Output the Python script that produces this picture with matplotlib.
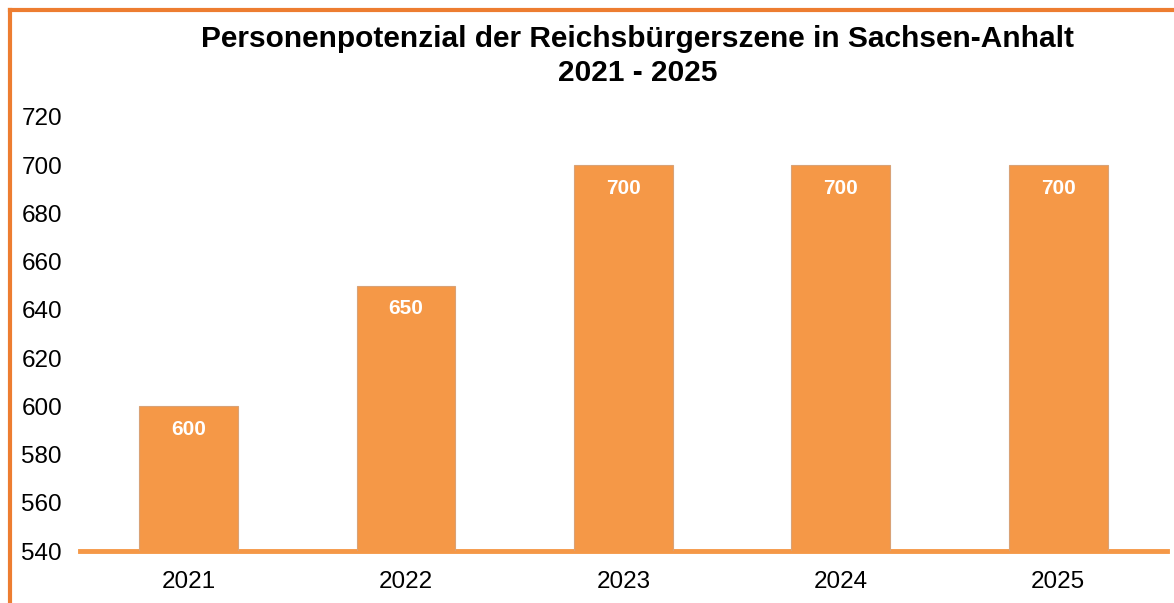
import matplotlib.pyplot as plt
from matplotlib.lines import Line2D

years = ['2021', '2022', '2023', '2024', '2025']
persons = [600, 650, 700, 700, 700]
yticks = [540, 560, 580, 600, 620, 640, 660, 680, 700, 720]

plt.rcParams['font.family'] = ['Liberation Sans', 'DejaVu Sans']
orange = '#F59847'

fig = plt.figure(figsize=(11.74, 6.03), dpi=100)
ax = fig.add_axes([0.068, 0.086, 0.926, 0.72])

x = range(len(years))
bars = ax.bar(x, [p - 540 for p in persons], bottom=540, width=0.455,
              color=orange, edgecolor='#D9A276', linewidth=0.8, zorder=2)

for i, p in zip(x, persons):
    ax.text(i, p - 9.5, str(p), ha='center', va='center', color='white',
            fontsize=15, fontweight='bold', zorder=3)

ax.set_xlim(-0.5, 4.5)
ax.set_ylim(540, 720)
ax.set_xticks(list(x))
ax.set_xticklabels(years, fontsize=17.5)
ax.set_yticks(yticks)
ax.set_yticklabels([str(t) for t in yticks], fontsize=17.5)
ax.tick_params(length=0)
ax.tick_params(axis='x', pad=14)
for lab in ax.get_yticklabels():
    lab.set_horizontalalignment('left')
ax.yaxis.set_tick_params(pad=42)

for s in ['top', 'right', 'left']:
    ax.spines[s].set_visible(False)
ax.spines['bottom'].set_color(orange)
ax.spines['bottom'].set_linewidth(3.5)
ax.spines['bottom'].set_zorder(1)

fig.text(0.543, 0.907, 'Personenpotenzial der Reichsbürgerszene in Sachsen-Anhalt\n2021 - 2025',
         ha='center', va='center', fontsize=21.5, fontweight='bold', linespacing=1.26)

# orange frame around the figure
fig.add_artist(Line2D([0.0082, 0.0082], [0, 0.984], transform=fig.transFigure,
                      color='#ED7D31', linewidth=3))
fig.add_artist(Line2D([0.0082, 1], [0.984, 0.984], transform=fig.transFigure,
                      color='#ED7D31', linewidth=3))

fig.savefig('out.png', dpi=100)
